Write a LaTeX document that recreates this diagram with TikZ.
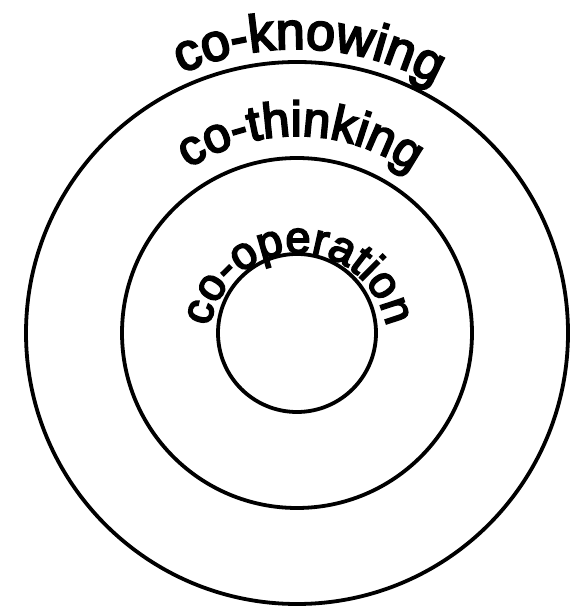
\documentclass[tikz,border=0pt]{standalone}
\usepackage{fontspec}
\setmainfont{Liberation Sans}
\newfontfamily\ringface[FakeBold=4]{Liberation Sans}
\usepackage{tikz}
\usetikzlibrary{decorations.text}
\newcommand{\ringfont}[1]{\ringface\fontsize{#1}{#1}\selectfont}

\begin{document}
\begin{tikzpicture}[x=1pt, y=1pt, ring/.style={black, line width=3.8pt}]
        \useasboundingbox (0,0) rectangle (570,607);
        \coordinate (c) at (297,274);
        \coordinate (t) at (298,264);
        % rings
        \draw[ring] (c) circle (271);
        \draw[ring] (c) circle (175);
        \draw[ring] (c) circle (79);
        % labels
        \path[decorate, decoration={text along path, text align=center, text={|\ringfont{52}|co-knowing}}] ([shift={(160:284)}]c) arc[start angle=160, end angle=15, radius=284];
        \path[decorate, decoration={text along path, text align=center, text={|\ringfont{49}|co-thinking}}] ([shift={(160:197)}]c) arc[start angle=160, end angle=18, radius=197];
        \path[decorate, decoration={text along path, text align=center, text={|\ringfont{45}|co-operation}}] ([shift={(180:90)}]t) arc[start angle=180, end angle=0, radius=90];
    \end{tikzpicture}
\end{document}
